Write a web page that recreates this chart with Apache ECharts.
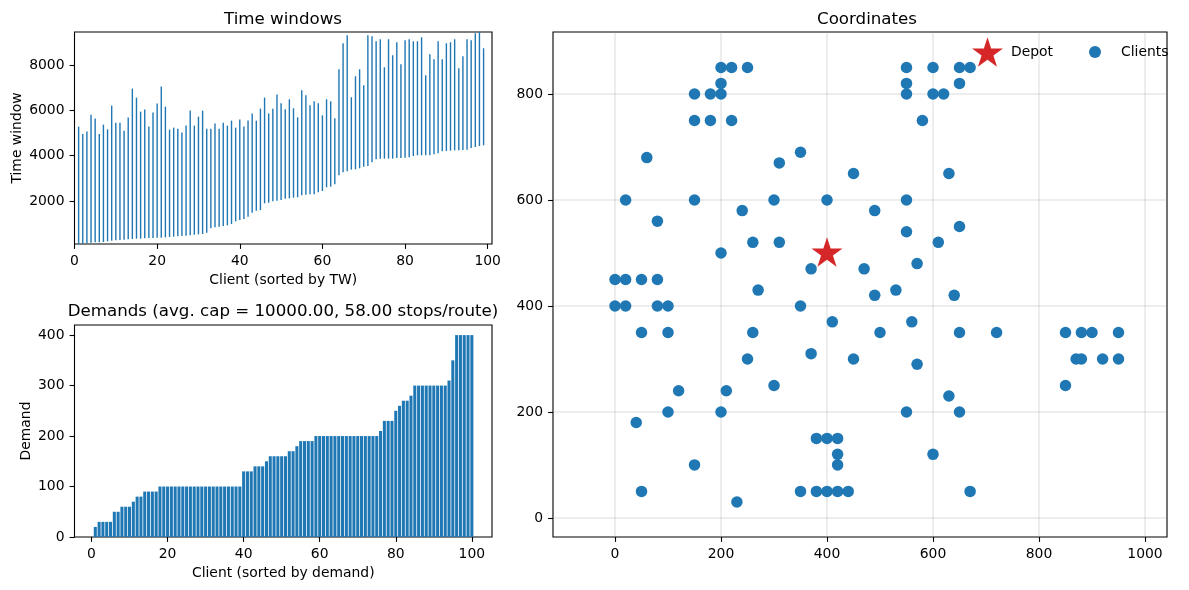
<!DOCTYPE html>
<html>
<head>
<meta charset="utf-8">
<style>html,body{margin:0;padding:0;background:#fff}#c{width:1189px;height:590px}</style>
<script src="https://cdn.jsdelivr.net/npm/echarts@6/dist/echarts.min.js"></script>
</head>
<body>
<div id="c"></div>
<script>
const twEarly = [100,100,129,158,173,173,188,217,246,261,276,291,305,320,335,335,349,364,364,379,379,394,408,423,438,452,467,482,511,526,541,600,791,835,865,894,924,982,1100,1159,1203,1306,1483,1571,1601,1895,1925,1983,2013,
2042,2101,2116,2145,2160,2248,2278,2292,2292,2381,2440,2602,2631,2734,3131,3264,3308,3382,3396,3441,3514,3544,3706,3838,3868,3868,3868,3868,3897,3897,3912,3926,3985,4015,4015,4015,4015,4059,4103,4191,4206,4221,4235,4235,4250,4265,4338,4383,4427,4456];
const twLate = [5281,4957,5060,5810,5634,4957,5369,5163,6208,5457,5457,5104,5678,6959,6561,5943,6031,5281,5899,6296,7047,6164,5148,5236,5192,5016,5325,5987,5325,5722,5987,5192,5192,5413,5192,5457,5325,5546,5236,5590,5281,5546,5855,5546,6075,6561,5855,6075,6694,
6311,6046,6488,6090,5693,6885,6664,6223,6399,6311,5781,6488,6399,5649,7812,8961,9314,6576,7503,7812,7106,9314,9270,9049,9137,7901,9137,8431,9005,8033,9093,9137,9049,9049,9226,7547,8475,8254,9049,8254,8961,9005,9137,7857,8387,9137,9093,9402,9700,8740];
const demands = [20,30,30,30,30,50,50,60,60,60,70,80,80,90,90,90,90,
100,100,100,100,100,100,100,100,100,100,100,100,100,100,100,100,100,100,100,100,100,100,
130,130,130,140,140,140,150,160,160,160,160,160,170,170,180,190,190,190,190,
200,200,200,200,200,200,200,200,200,200,200,200,200,200,200,200,200,
210,230,230,230,250,260,270,270,280,300,300,300,300,300,300,300,300,300,310,350,400,400,400,400,400];
const clientX = [200,220,250,200,150,180,200,150,180,220,550,600,650,670,550,650,550,600,620,580,60,310,350,450,630,20,150,300,400,550,240,490,80,550,650,200,260,310,610,370,470,570,0,20,50,80,270,530,490,640,0,20,80,100,350,50,100,260,410,500,560,650,720,850,880,900,950,370,250,450,570,870,880,920,950,300,850,120,210,630,40,100,200,550,650,380,400,420,420,420,600,150,50,350,380,400,420,440,670,230];
const clientY = [850,850,850,820,800,800,800,750,750,750,850,850,850,850,820,820,800,800,800,750,680,670,690,650,650,600,600,600,600,600,580,580,560,540,550,500,520,520,520,470,470,480,450,450,450,450,430,430,420,420,400,400,400,400,400,350,350,350,370,350,370,350,350,350,350,350,350,310,300,300,290,300,300,300,300,250,250,240,240,230,180,200,200,200,200,150,150,150,120,100,120,100,50,50,50,50,50,50,50,30];
const depotX = [400];
const depotY = [500];
const twXTicks = [0,20,40,60,80,100];
const twYTicks = [2000,4000,6000,8000];
const demandXTicks = [0,20,40,60,80,100];
const demandYTicks = [0,100,200,300,400];
const coordXTicks = [0,200,400,600,800,1000];
const coordYTicks = [0,200,400,600,800];

const BLUE='#1f77b4', RED='#d62728', FONT='"DejaVu Sans"', TICK=13.9;
const star='path://M50 0L61.2 34.5L97.55 34.55L68.2 55.9L79.4 90.45L50 69.1L20.6 90.45L31.8 55.9L2.45 34.55L38.8 34.5Z';
function axis(o){
  const a={type:'value',min:o.min,max:o.max,gridIndex:o.g,name:o.name,nameLocation:'middle',nameGap:o.gap,
    nameTextStyle:{color:'#000',fontFamily:FONT,fontSize:TICK},
    axisLine:{show:false,onZero:false},
    axisTick:{show:true,length:4.9,lineStyle:{color:'#000',width:1.1},customValues:o.ticks},
    axisLabel:{show:true,color:'#000',fontFamily:FONT,fontSize:TICK,margin:10,customValues:o.ticks,formatter:v=>String(v),hideOverlap:false,showMinLabel:true,showMaxLabel:true},
    splitLine:{show:false}};
  if(o.grid){a.splitLine={show:true,lineStyle:{color:'rgba(150,150,150,0.22)',width:1.5},customValues:o.ticks};}
  return a;
}
function border(l,t,w,h){return {show:true,left:l,top:t,width:w,height:h,borderColor:'#000',borderWidth:1.1,backgroundColor:'#fff'};}
const chart=echarts.init(document.getElementById('c'),null,{renderer:'canvas'});
const title=(text,x,y)=>({text,left:x,top:y,textAlign:'center',textStyle:{color:'#000',fontFamily:FONT,fontSize:16.67,fontWeight:'normal'}});
chart.setOption({
  animation:false,
  backgroundColor:'#fff',
  title:[title('Time windows',278,6),title('Demands (avg. cap = 10000.00, 58.00 stops/route)',278,298),title('Coordinates',862,6)],
  grid:[border(74.5,32,417.5,212),border(74.5,325,417.5,212),border(553,32,614,505)],
  xAxis:[
    axis({g:0,min:0,max:101.04,ticks:twXTicks,name:'Client (sorted by TW)',gap:29}),
    axis({g:1,min:-4.47,max:105.3,ticks:demandXTicks,name:'Client (sorted by demand)',gap:29}),
    axis({g:2,min:-117,max:1041.5,ticks:coordXTicks,grid:true})
  ],
  yAxis:[
    axis({g:0,min:100,max:9457,ticks:twYTicks,name:'Time window',gap:50}),
    axis({g:1,min:0,max:420,ticks:demandYTicks,name:'Demand',gap:41}),
    axis({g:2,min:-36,max:917,ticks:coordYTicks,grid:true})
  ],
  legend:[
    {data:[{name:'Depot',icon:star}],left:972,top:36,itemWidth:31,itemHeight:30,padding:0,textStyle:{color:'#000',fontFamily:FONT,fontSize:TICK,padding:[0,0,0,3],lineHeight:32}},
    {data:[{name:'Clients',icon:'circle'}],left:1089,top:45,itemWidth:12,itemHeight:12,padding:0,textStyle:{color:'#000',fontFamily:FONT,fontSize:TICK,padding:[0,0,0,15]}}
  ],
  series:[
    {type:'custom',xAxisIndex:0,yAxisIndex:0,clip:true,
     data:twEarly.map((e,i)=>[i+1,e,twLate[i]]),
     encode:{x:0,y:[1,2]},
     renderItem:(p,api)=>{const a=api.coord([api.value(0),api.value(1)]),b=api.coord([api.value(0),api.value(2)]);
       return {type:'line',shape:{x1:a[0],y1:a[1],x2:b[0],y2:b[1]},style:{stroke:BLUE,lineWidth:1.4,fill:null}};}},
    {type:'bar',xAxisIndex:1,yAxisIndex:1,barWidth:3.04,itemStyle:{color:BLUE},
     data:demands.map((d,i)=>[i+1,d])},
    {type:'scatter',name:'Clients',xAxisIndex:2,yAxisIndex:2,symbol:'circle',symbolSize:11.5,itemStyle:{color:BLUE,opacity:1},
     data:clientX.map((x,i)=>[x,clientY[i]])},
    {type:'scatter',name:'Depot',xAxisIndex:2,yAxisIndex:2,symbol:star,symbolSize:[31,29.5],symbolOffset:[0,-1],itemStyle:{color:RED,opacity:1},z:5,
     data:depotX.map((x,i)=>[x,depotY[i]])}
  ]
});
</script>
</body>
</html>
